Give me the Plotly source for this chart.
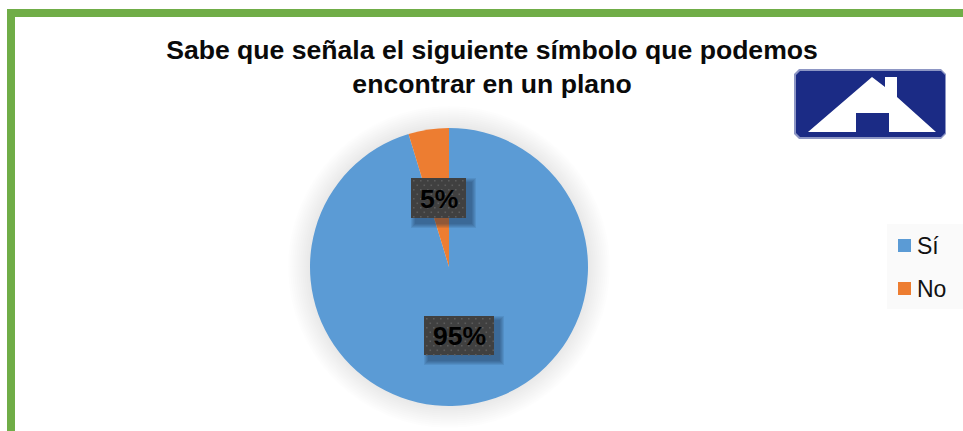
import plotly.graph_objects as go

# Data
categories = ["Sí", "No"]
values = [95.3, 4.7]
colors = ["#5b9bd5", "#ed7d31"]
title_lines = ["Sabe que señala el siguiente símbolo que podemos", "encontrar en un plano"]

W, H = 963, 431
FONT = "Liberation Sans"


def px(x):
    return x / W


def py(y):
    return 1 - y / H


def rect(x0, y0, x1, y1, fill, layer="above"):
    return dict(type="rect", xref="paper", yref="paper",
                x0=px(x0), x1=px(x1), y0=py(y0), y1=py(y1),
                fillcolor=fill, line_width=0, layer=layer)


def polygon(points, fill, layer="above"):
    path = "M " + " L ".join(f"{px(x):.5f},{py(y):.5f}" for x, y in points) + " Z"
    return dict(type="path", xref="paper", yref="paper", path=path,
                fillcolor=fill, line_width=0, layer=layer)


def chamfered(x0, y0, x1, y1, c):
    return [(x0 + c, y0), (x1 - c, y0), (x1, y0 + c), (x1, y1 - c),
            (x1 - c, y1), (x0 + c, y1), (x0, y1 - c), (x0, y0 + c)]


cx, cy, r = 449, 267, 139
shapes = []

# page frame
shapes.append(rect(7, 9, W, 17, "#70ad47"))
shapes.append(rect(7, 9, 15, H, "#70ad47"))

# legend panel
shapes.append(rect(887, 224, W, 309, "#fafafa", "below"))

# soft shadow round the pie
for grow in range(22, 0, -2):
    shapes.append(dict(type="circle", xref="paper", yref="paper",
                       x0=px(cx - r - grow), x1=px(cx + r + grow),
                       y0=py(cy - r - grow), y1=py(cy + r + grow),
                       fillcolor="rgba(0,0,0,0.006)", line_width=0, layer="below"))

# data label boxes
boxes = [(424, 316, 494, 355), (411, 178, 466, 218)]
for x0, y0, x1, y1 in boxes:
    for g in range(5, 0, -1):
        shapes.append(rect(x0 + 5 - g, y0 + 5 - g, x1 + 5 + g, y1 + 5 + g, "rgba(20,40,70,0.10)"))
    shapes.append(rect(x0, y0, x1, y1, "#404040"))
    yy = y0 + 2
    row = 0
    while yy < y1:
        xx = x0 + 2 + (row % 2) * 3.5
        while xx < x1 - 1:
            shapes.append(rect(xx, yy, xx + 1.6, yy + 1.6, "#5c5c5c"))
            xx += 7
        yy += 4.5
        row += 1

# legend keys
legend_rows = [245.5, 288.5]
for row_y, colour in zip(legend_rows, colors):
    shapes.append(rect(898, row_y - 6.5, 911, row_y + 6.5, colour))

# house sign
shapes.append(polygon(chamfered(794, 69, 946, 139, 5), "#8d96c4"))
shapes.append(polygon(chamfered(796, 71, 945, 137, 4), "#1b2b85"))
shapes.append(polygon([(808, 132), (872, 77), (885, 87), (885, 77), (897, 77), (897, 97),
                       (936, 132), (889, 132), (889, 113), (856, 113), (856, 132)], "white"))

annotations = []
total = sum(values)
label_pos = {"Sí": (459, 336), "No": (438.5, 198.5)}
for name, v in zip(categories, values):
    x, y = label_pos[name]
    annotations.append(dict(text=f"<b>{round(100 * v / total)}%</b>", x=px(x), y=py(y),
                            xref="paper", yref="paper", showarrow=False,
                            xanchor="center", yanchor="middle",
                            font=dict(family=FONT, size=26.5, color="#000000")))
for name, row_y in zip(categories, legend_rows):
    annotations.append(dict(text=name, x=px(914.5), y=py(row_y), xref="paper", yref="paper",
                            xanchor="left", yanchor="middle", showarrow=False,
                            font=dict(family=FONT, size=23, color="#111111")))

fig = go.Figure(go.Pie(
    labels=categories, values=values, sort=False, direction="clockwise", rotation=0,
    marker=dict(colors=colors, line=dict(width=0)),
    textinfo="none", hoverinfo="label+percent",
    domain=dict(x=[px(cx - r), px(cx + r)], y=[py(cy + r), py(cy - r)]),
))

fig.update_layout(
    width=W, height=H, autosize=False,
    margin=dict(l=0, r=0, t=0, b=0),
    paper_bgcolor="white", plot_bgcolor="white",
    showlegend=False,
    title=dict(text="<b>" + "<br>".join(title_lines) + "</b>",
               x=px(492), xanchor="center", xref="paper",
               y=py(58.5), yanchor="middle", yref="container",
               font=dict(family=FONT, size=26.6, color="#0a0a0a")),
    shapes=shapes,
    annotations=annotations,
)

fig.write_html("out.html", config={"displayModeBar": False},
               post_script="document.body.style.margin='0';document.body.style.overflow='hidden';")
